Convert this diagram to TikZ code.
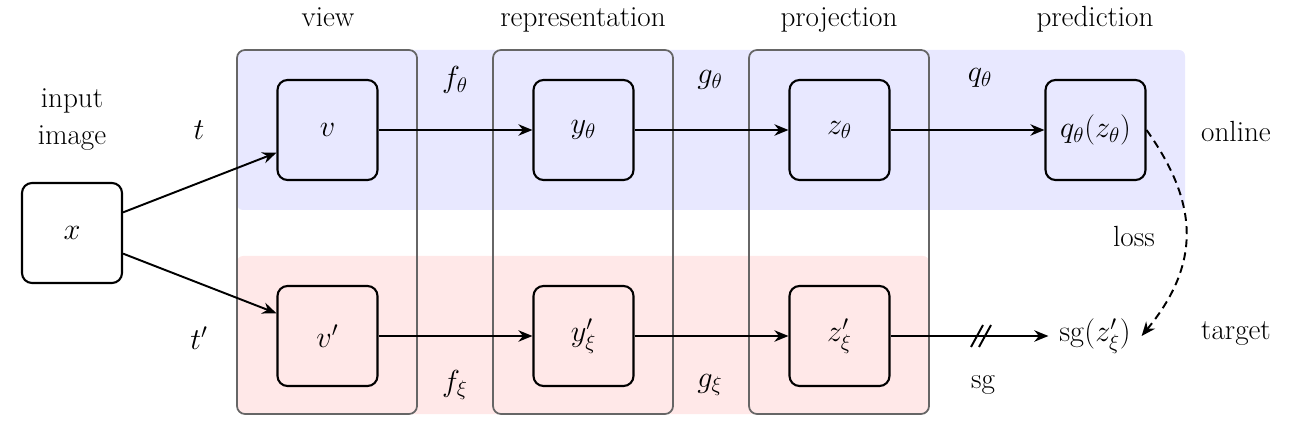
\documentclass[tikz,border=0pt]{standalone}
\usetikzlibrary{arrows.meta}

\begin{document}
\begin{tikzpicture}[x=0.02cm, y=-0.02cm, font=\fontsize{16.6}{21}\selectfont]
    \useasboundingbox (0,0) rectangle (1298,432);

    \fill[blue!9, rounded corners=0.12cm] (237,50) rectangle (1185,210);
    \fill[red!9,  rounded corners=0.12cm] (237,256) rectangle (929,414);

    \tikzset{FrameStyle/.style={draw=black!60, line width=1pt, rounded corners=0.16cm}}
    \foreach \fx in {237, 493, 749}
        \draw[FrameStyle] (\fx,50) rectangle (\fx+180,414);

    \tikzset{BoxStyle/.style={draw, line width=1.2pt, rounded corners=0.2cm,
        minimum size=2cm, inner sep=0pt}}
    \node[BoxStyle] (x)  at (72,233)     {$x$};
    \node[BoxStyle] (v)  at (327.5,130)  {$v$};
    \node[BoxStyle] (vp) at (327.5,336)  {$v'$};
    \node[BoxStyle] (y)  at (583.5,130)  {$y_\theta$};
    \node[BoxStyle] (yp) at (583.5,336)  {$y'_\xi$};
    \node[BoxStyle] (z)  at (839.5,130)  {$z_\theta$};
    \node[BoxStyle] (zp) at (839.5,336)  {$z'_\xi$};
    \node[BoxStyle] (q)  at (1095.5,130) {$q_\theta(z_\theta)$};
    \node[inner sep=6pt] (sg) at (1095,336) {$\mathrm{sg}(z'_\xi)$};

    \tikzset{TitleStyle/.style={anchor=base}}
    \node[TitleStyle] (view) at (328,27)  {view};
    \node[TitleStyle] (repr) at (583,27)  {representation};
    \node[TitleStyle] (proj) at (839,27)  {projection};
    \node[TitleStyle] (pred) at (1095,27) {prediction};

    \node[align=center] (input) at (72,120) {input\\image};
    \node (t)      at (199,130)  {$t$};
    \node (tp)     at (199,338)  {$t'$};
    \node (ftheta) at (455,80)   {$f_\theta$};
    \node (gtheta) at (710,80)   {$g_\theta$};
    \node (qtheta) at (980,78)   {$q_\theta$};
    \node (fxi)    at (455,385)  {$f_\xi$};
    \node (gxi)    at (710,385)  {$g_\xi$};
    \node (sglab)  at (983,385)  {sg};
    \node (online) at (1236,131) {online};
    \node (target) at (1236,334) {target};
    \node (loss)   at (1134,236) {loss};

    \tikzset{EdgeStyle/.style={-{Stealth[length=8pt, width=6.5pt, inset=2.6pt]}, line width=1.1pt}}
    \draw[EdgeStyle] (x.22)  -- (v.204);
    \draw[EdgeStyle] (x.-22) -- (vp.156);
    \draw[EdgeStyle] (v)  -- (y);
    \draw[EdgeStyle] (y)  -- (z);
    \draw[EdgeStyle] (z)  -- (q);
    \draw[EdgeStyle] (vp) -- (yp);
    \draw[EdgeStyle] (yp) -- (zp);
    \draw[EdgeStyle] (zp) -- (sg);

    \coordinate (cut) at (981,336);
    \foreach \dx in {-4,4}
        \draw[line width=1.1pt] ([shift={(\dx-6,11)}]cut) -- ([shift={(\dx+6,-11)}]cut);

    \draw[EdgeStyle, dash pattern=on 4.5pt off 3pt] (q.east) .. controls (1200,205) and (1200,265) .. (sg.east);
\end{tikzpicture}
\end{document}
